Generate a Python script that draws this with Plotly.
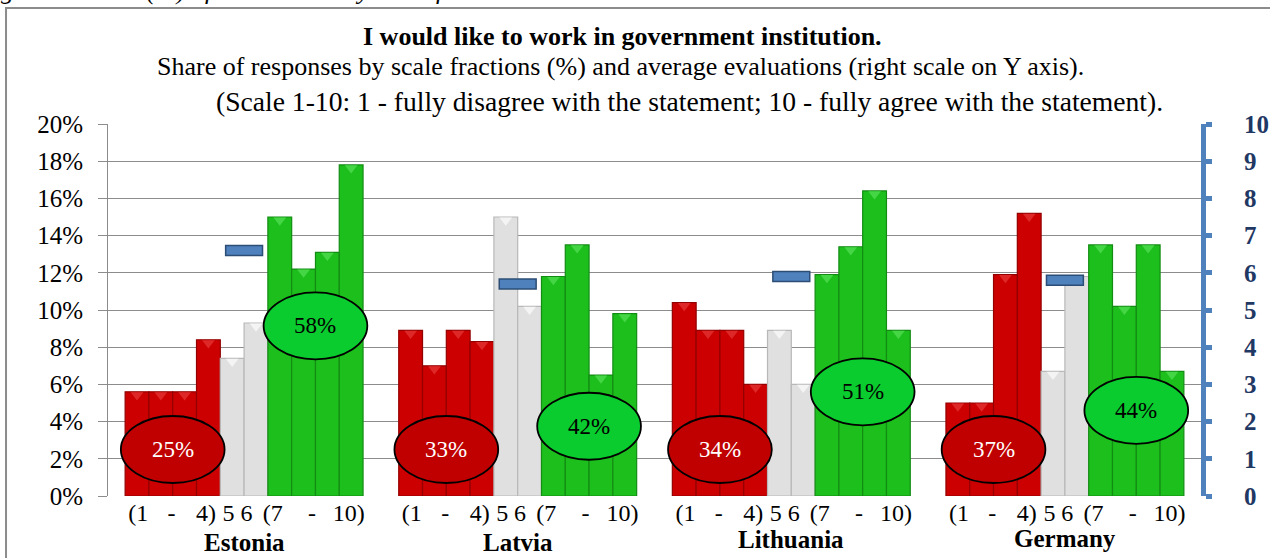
import plotly.graph_objects as go

# ---- data -------------------------------------------------------------
countries = ["Estonia", "Latvia", "Lithuania", "Germany"]
scale_points = list(range(1, 11))

# share of responses (%) for scale points 1..10
estonia = [5.6, 5.6, 5.6, 8.4, 7.4, 9.3, 15.0, 12.2, 13.1, 17.8]
latvia = [8.9, 7.0, 8.9, 8.3, 15.0, 10.2, 11.8, 13.5, 6.5, 9.8]
lithuania = [10.4, 8.9, 8.9, 6.0, 8.9, 6.0, 11.9, 13.4, 16.4, 8.9]
germany = [5.0, 5.0, 11.9, 15.2, 6.7, 11.8, 13.5, 10.2, 13.5, 6.7]

# average evaluation on the 1-10 scale (right axis)
avg_eval = [6.6, 5.7, 5.9, 5.8]

# summed shares of the disagree (1-4) and agree (7-10) fractions
disagree_pct = [25, 33, 34, 37]
agree_pct = [58, 42, 51, 44]

scale_tick_text = ["(1", "-", "4)", "5", "6", "(7", "-", "10)"]
pct_tick_vals = list(range(0, 21, 2))
avg_tick_vals = list(range(0, 11))

shares = [estonia, latvia, lithuania, germany]

# ---- layout helpers ---------------------------------------------------
STEP = 11.5                      # slot distance between country groups
SERIF = "Liberation Serif"
RED, RED_EDGE, RED_TOP = "#CC0000", "#940000", "#DE2828"
GREY, GREY_EDGE, GREY_TOP = "#E0E0E0", "#B8B8B8", "#F4F4F4"
GREEN, GREEN_EDGE, GREEN_TOP = "#1DBF1D", "#138C13", "#45D645"
BLUE, BLUE_EDGE, NAVY = "#4F81BD", "#2C4D75", "#1F3864"

tick_local = [0.55, 1.95, 3.4, 4.35, 5.1, 6.2, 7.85, 9.4]
ellipse_red_y = [2.5, 2.5, 2.5, 2.5]
ellipse_green_y = [9.15, 3.75, 5.6, 4.6]
country_shift = [-46, -46, -43, -42]


def slot(g, i):
    return g * STEP + i + 0.5


def fraction(lo, hi):
    xs, ys = [], []
    for g, vals in enumerate(shares):
        for i in range(lo, hi):
            xs.append(slot(g, i))
            ys.append(vals[i])
    return xs, ys


fig = go.Figure()

for (lo, hi), col, edge, top, name in [((0, 4), RED, RED_EDGE, RED_TOP, "1-4"),
                                       ((4, 6), GREY, GREY_EDGE, GREY_TOP, "5-6"),
                                       ((6, 10), GREEN, GREEN_EDGE, GREEN_TOP, "7-10")]:
    xs, ys = fraction(lo, hi)
    fig.add_trace(go.Bar(x=xs, y=ys, width=1.0, name=name,
                         marker=dict(color=col, line=dict(color=edge, width=1.2)),
                         hoverinfo="x+y"))
    # bevelled cap on top of every column
    fig.add_trace(go.Scatter(x=xs, y=[v - 0.17 for v in ys], mode="markers",
                             hoverinfo="skip",
                             marker=dict(symbol="triangle-down", size=11, color=top,
                                         line=dict(width=0))))

# average evaluation marks on the right-hand scale
fig.add_trace(go.Bar(
    x=[g * STEP + 5 for g in range(len(countries))],
    y=[0.27] * len(countries),
    base=[a - 0.135 for a in avg_eval],
    width=1.55, yaxis="y2", name="average",
    marker=dict(color=BLUE, line=dict(color=BLUE_EDGE, width=1.5)),
))

shapes, annotations = [], []
for g in range(len(countries)):
    for cx, cy, txt, fill, fc in [
        (g * STEP + 2.0, ellipse_red_y[g], disagree_pct[g], "#C00000", "white"),
        (g * STEP + 8.0, ellipse_green_y[g], agree_pct[g], "#0ACC2E", "black"),
    ]:
        shapes.append(dict(type="circle", xref="x", yref="y",
                           x0=cx - 2.18, x1=cx + 2.18, y0=cy - 1.8, y1=cy + 1.8,
                           fillcolor=fill, line=dict(color="black", width=1.8),
                           layer="above"))
        annotations.append(dict(x=cx, y=cy, xref="x", yref="y", text=f"{txt}%",
                                showarrow=False,
                                font=dict(family=SERIF, size=23, color=fc)))
    annotations.append(dict(x=g * STEP + 5, y=0, xref="x", yref="paper",
                            yshift=country_shift[g], text=f"<b>{countries[g]}</b>",
                            showarrow=False, yanchor="middle",
                            font=dict(family=SERIF, size=25, color="black")))

# titles
annotations += [
    dict(x=0.471, y=1, xref="paper", yref="paper", yshift=88, yanchor="middle",
         text="<b>I would like to work in government institution.</b>",
         showarrow=False, font=dict(family=SERIF, size=26, color="black")),
    dict(x=0.469, y=1, xref="paper", yref="paper", yshift=58, yanchor="middle",
         text="Share of responses by scale fractions (%) and average evaluations (right scale on Y axis).",
         showarrow=False, font=dict(family=SERIF, size=26, color="black")),
    dict(x=0.532, y=1, xref="paper", yref="paper", yshift=23, yanchor="middle",
         text="(Scale 1-10: 1 - fully disagree with the statement; 10 - fully agree with the statement).",
         showarrow=False, font=dict(family=SERIF, size=27.6, color="black")),
    dict(x=-0.122, y=1, xref="paper", yref="paper", yshift=134, yanchor="middle",
         xanchor="left",
         text="<i>Figure 1. Share (%) of evaluations by scale fractions</i>",
         showarrow=False, font=dict(family=SERIF, size=26, color="black")),
]

# outer frame of the chart area
shapes.append(dict(type="rect", xref="paper", yref="paper",
                   x0=-0.0933, x1=1.3, y0=-0.5, y1=1.3118,
                   line=dict(color="#8C8C8C", width=2), fillcolor="rgba(0,0,0,0)",
                   layer="below"))

tick_vals = [g * STEP + t for g in range(len(countries)) for t in tick_local]
tick_text = scale_tick_text * len(countries)

fig.update_layout(
    width=1270, height=558,
    margin=dict(l=108, r=69, t=124, b=62),
    paper_bgcolor="white", plot_bgcolor="white",
    barmode="overlay", showlegend=False,
    shapes=shapes, annotations=annotations,
    xaxis=dict(range=[-0.72, 45.22], tickvals=tick_vals, ticktext=tick_text,
               ticks="", showgrid=False, zeroline=False, showline=False,
               automargin=False,
               tickfont=dict(family=SERIF, size=24, color="black"),
               ticklabelstandoff=0),
    yaxis=dict(range=[0, 20], tickvals=pct_tick_vals,
               ticktext=[f"{v}%" for v in pct_tick_vals],
               showgrid=True, gridcolor="#8C8C8C", gridwidth=1,
               showline=True, linecolor="#8C8C8C", linewidth=1,
               ticks="outside", ticklen=9, tickcolor="#8C8C8C",
               zeroline=False, ticklabelstandoff=10, automargin=False,
               tickfont=dict(family=SERIF, size=25, color="black")),
    yaxis2=dict(range=[0, 10], tickvals=avg_tick_vals, overlaying="y",
                side="right", showgrid=False, zeroline=False,
                showline=True, linecolor=BLUE, linewidth=5,
                ticks="outside", ticklen=6, tickwidth=5, tickcolor=BLUE,
                ticklabelstandoff=27, automargin=False,
                tickfont=dict(family=SERIF, size=25, color=NAVY, weight="bold")),
)

fig.write_html("out.html")
